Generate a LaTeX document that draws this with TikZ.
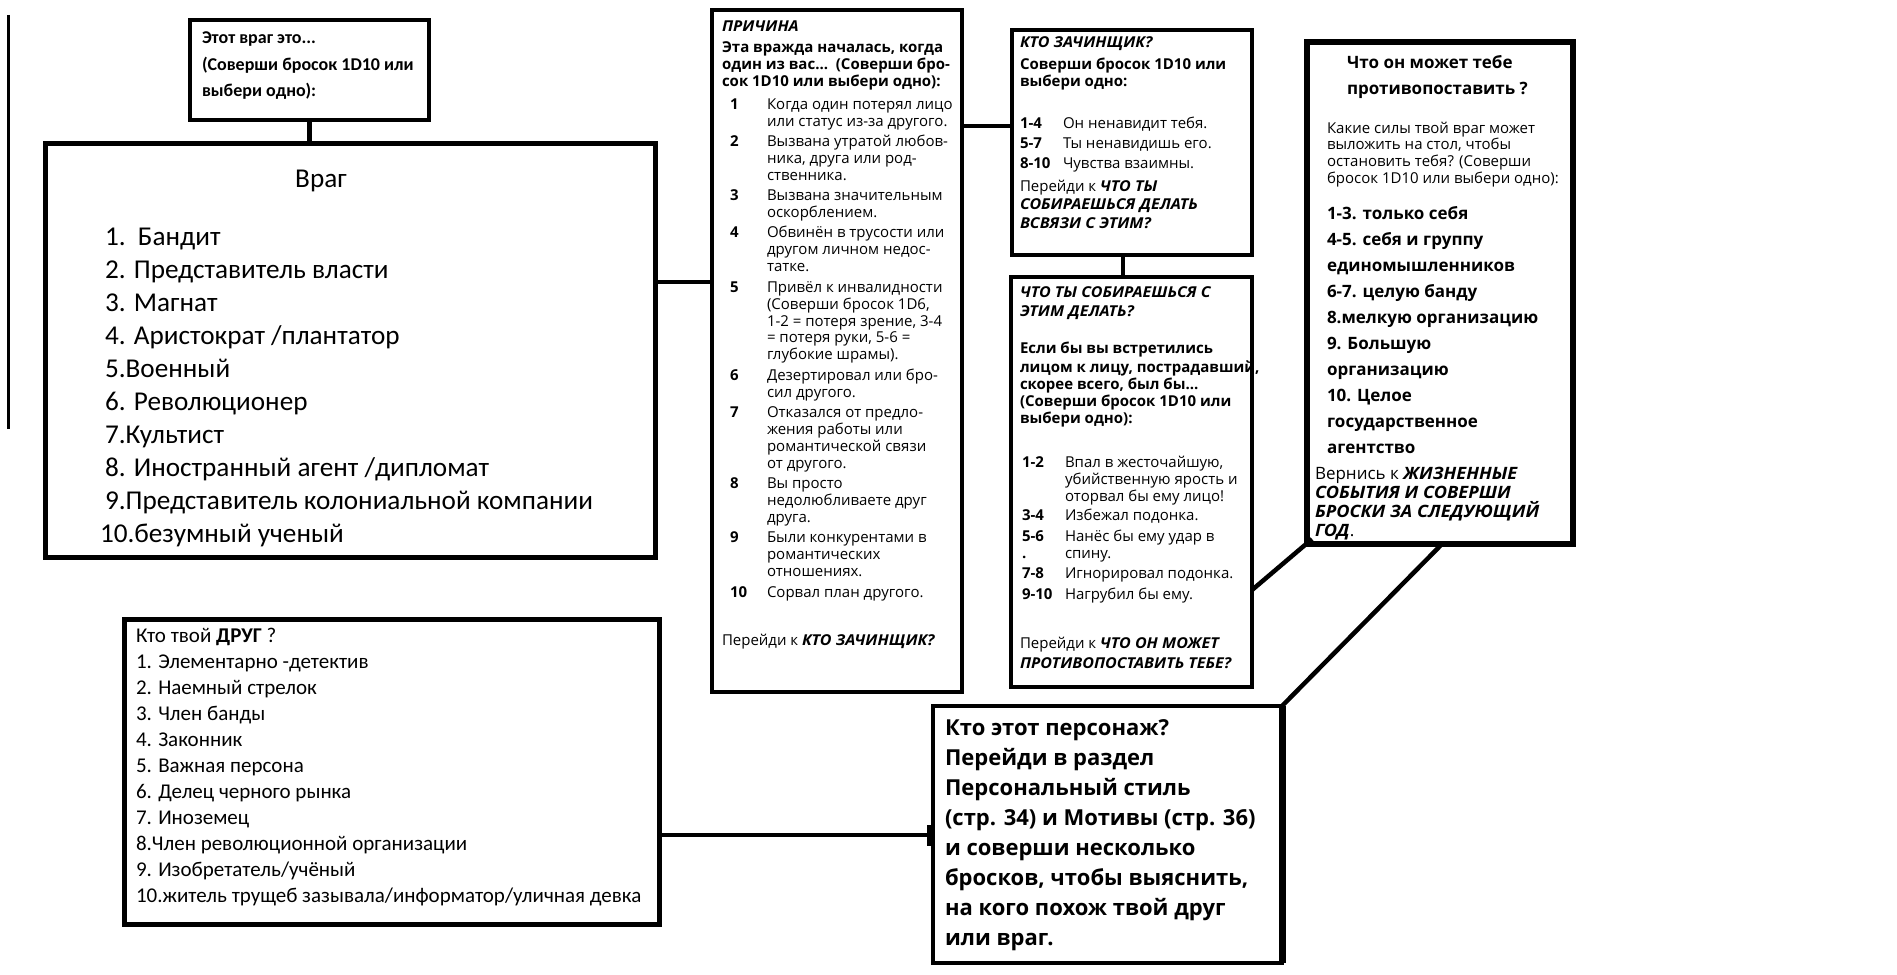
\documentclass[tikz,border=0pt]{standalone}
\usepackage{fontspec}
\setmainfont{Open Sans}
\newfontfamily\carl{Carlito}
\newcommand\setfs[2]{\fontsize{#1}{#2}\selectfont}
\newcommand\bi[1]{\scalebox{1.07}[1]{\bfseries\itshape #1}}
\newcommand\bb[1]{{\bfseries #1}}
\newcommand\mlines[1]{\vtop{\lineskiplimit=-1000pt\relax\lineskip=0pt\relax\halign{##\hfil\cr#1\crcr}}}
\newcommand\gap[1]{\noalign{\vskip#1}}
\newcommand\nA[1]{\hspace*{8pt}\makebox[37pt][l]{\bfseries #1}}
\newcommand\hA{\hspace*{45pt}}
\newcommand\nB[1]{\makebox[43pt][l]{\bfseries #1}}
\newcommand\nC[1]{\hspace*{2pt}\makebox[43pt][l]{\bfseries #1}}
\newcommand\hC{\hspace*{45pt}}
\tikzset{
  box/.style={draw, line width=#1, rectangle, inner sep=0pt, outer sep=0pt, anchor=north west},
  box/.default=5pt,
  txt/.style={inner sep=0pt, outer sep=0pt, anchor=base west},
  conn/.style={line width=4.5pt},
}
\begin{document}
\begin{tikzpicture}[x=1pt,y=-1pt]
\fill[white] (0,0) rectangle (1897,974);
\useasboundingbox (0,0) rectangle (1897,974);

% boxes
\node[box=4.5pt, minimum width=239pt, minimum height=100pt] (small) at (190,20) {};
\node[box=5pt, minimum width=610pt, minimum height=414pt] (vrag) at (45,143) {};
\node[box=3.5pt, minimum width=250pt, minimum height=682pt] (prich) at (712,10) {};
\node[box=3.5pt, minimum width=240pt, minimum height=225pt] (zach) at (1012,30) {};
\node[box=3.5pt, minimum width=241pt, minimum height=410pt] (chto) at (1011,277) {};
\node[box=5.5pt, minimum width=266pt, minimum height=502pt] (chton) at (1307,42) {};
\node[box=5pt, minimum width=535pt, minimum height=305pt] (drug) at (124,619) {};
\node[box=4pt, minimum width=349pt, minimum height=257pt] (kto) at (933,706) {};

% coordinates for connectors
\coordinate (l1) at (8,15);
\coordinate (l2) at (8,429);
\coordinate (c1) at (0,282);
\coordinate (c2) at (0,126);
\coordinate (c3) at (1123,0);
\coordinate (c4) at (0,590);
\coordinate (c5) at (1442,0);
\coordinate (c6) at (0,835);
\coordinate (c7) at (0,825);
\coordinate (c8) at (0,846);

% connectors
\draw[line width=3pt] (l1) -- (l2);
\draw[conn] (small.south) -- (small.south |- vrag.north);
\draw[conn] (vrag.east |- c1) -- (prich.west |- c1);
\draw[conn] (prich.east |- c2) -- (zach.west |- c2);
\draw[conn] (zach.south -| c3) -- (chto.north -| c3);
\draw[conn] (chto.east |- c4) -- ([xshift=5pt,yshift=5pt]chton.south west);
\draw[conn] (chton.south -| c5) -- (kto.north east);
\draw[conn] (drug.east |- c6) -- (kto.west |- c6);
\draw[line width=8pt] ([xshift=-2pt]kto.west |- c7) -- ([xshift=-2pt]kto.west |- c8);
\draw[line width=7pt] (kto.north east) -- (kto.south east);

% texts
\node[txt] (smallt) at (202,44) {\carl\bfseries\setfs{18}{26.5}\mlines{Этот враг это...\cr
(Соверши бросок 1D10 или\cr
выбери одно):}};

\node[inner sep=0pt, anchor=base] (vragt) at (321,187) {\carl\setfs{27.2}{32}Враг};
\node[txt] (vragl) at (105,245) {\carl\setfs{27.2}{33.1}\mlines{1.\ \ Бандит\cr
2. Представитель власти\cr
3. Магнат\cr
4. Аристократ /плантатор\cr
5.Военный\cr
6. Революционер\cr
7.Культист\cr
8. Иностранный агент /дипломат\cr
9.Представитель колониальной компании\cr
\hspace*{-5pt}10.безумный ученый}};

\node[txt] (pricht) at (722,32) {\setfs{15}{16.9}\mlines{\bi{ПРИЧИНА}\cr\gap{4pt}
\bb{Эта вражда началась, когда}\cr
\bb{один из вас...\ \ (Соверши бро-}\cr
\bb{сок 1D10 или выбери одно):}\cr\gap{5.6pt}
\nA{1}Когда один потерял лицо\cr
\hA или статус из-за другого.\cr\gap{3.5pt}
\nA{2}Вызвана утратой любов-\cr
\hA ника, друга или род-\cr
\hA ственника.\cr\gap{3.5pt}
\nA{3}Вызвана значительным\cr
\hA оскорблением.\cr\gap{3.5pt}
\nA{4}Обвинён в трусости или\cr
\hA другом личном недос-\cr
\hA татке.\cr\gap{3.5pt}
\nA{5}Привёл к инвалидности\cr
\hA (Соверши бросок 1D6,\cr
\hA 1-2 = потеря зрение, 3-4\cr
\hA = потеря руки, 5-6 =\cr
\hA глубокие шрамы).\cr\gap{3.5pt}
\nA{6}Дезертировал или бро-\cr
\hA сил другого.\cr\gap{3.5pt}
\nA{7}Отказался от предло-\cr
\hA жения работы или\cr
\hA романтической связи\cr
\hA от другого.\cr\gap{3.5pt}
\nA{8}Вы просто\cr
\hA недолюбливаете друг\cr
\hA друга.\cr\gap{3.5pt}
\nA{9}Были конкурентами в\cr
\hA романтических\cr
\hA отношениях.\cr\gap{3.5pt}
\nA{10}Сорвал план другого.\cr\gap{32pt}
Перейди к \bi{КТО ЗАЧИНЩИК?}}};

\node[txt] (zacht) at (1020,48) {\setfs{15}{17}\mlines{\bi{КТО ЗАЧИНЩИК?}\cr\gap{5pt}
\bb{Соверши бросок 1D10 или}\cr
\bb{выбери одно:}\cr\gap{25pt}
\nB{1-4}Он ненавидит тебя.\cr\gap{3pt}
\nB{5-7}Ты ненавидишь его.\cr\gap{3pt}
\nB{8-10}Чувства взаимны.\cr\gap{6pt}
Перейди к \bi{ЧТО ТЫ}\cr\gap{1pt}
\bi{СОБИРАЕШЬСЯ ДЕЛАТЬ}\cr\gap{1pt}
\bi{ВСВЯЗИ С ЭТИМ?}}};

\node[txt] (chtot) at (1020,297) {\setfs{15}{17}\mlines{\bi{ЧТО ТЫ СОБИРАЕШЬСЯ С}\cr\gap{2pt}
\bi{ЭТИМ ДЕЛАТЬ?}\cr\gap{20pt}
\bb{Если бы вы встретились}\cr\gap{2pt}
\bb{лицом к лицу, пострадавший,}\cr
\bb{скорее всего, был бы...}\cr
\bb{(Соверши бросок 1D10 или}\cr
\bb{выбери одно):}\cr\gap{27pt}
\nC{1-2}Впал в жесточайшую,\cr
\hC убийственную ярость и\cr
\hC оторвал бы ему лицо!\cr\gap{2pt}
\nC{3-4}Избежал подонка.\cr\gap{4pt}
\nC{5-6}Нанёс бы ему удар в\cr
\nC{.}спину.\cr\gap{3pt}
\nC{7-8}Игнорировал подонка.\cr\gap{4pt}
\nC{9-10}Нагрубил бы ему.\cr\gap{32pt}
Перейди к \bi{ЧТО ОН МОЖЕТ}\cr\gap{3pt}
\bi{ПРОТИВОПОСТАВИТЬ ТЕБЕ?}}};

\node[txt] (chtont1) at (1347,69) {\bfseries\setfs{17}{25}\mlines{Что он может тебе\cr
противопоставить ?}};
\node[txt] (chtont2) at (1327,133) {\setfs{15}{16.7}\mlines{Какие силы твой враг может\cr
выложить на стол, чтобы\cr
остановить тебя? (Соверши\cr
бросок 1D10 или выбери одно):}};
\node[txt] (chtont3) at (1327,219) {\bfseries\setfs{17}{26}\mlines{1-3. только себя\cr
4-5. себя и группу\cr
единомышленников\cr
6-7. целую банду\cr
8.мелкую организацию\cr
9. Большую\cr
организацию\cr
10. Целое\cr
государственное\cr
агентство}};
\node[txt] (chtont4) at (1315,479) {\setfs{17}{19}\mlines{Вернись к \bi{ЖИЗНЕННЫЕ}\cr
\bi{СОБЫТИЯ И СОВЕРШИ}\cr
\bi{БРОСКИ ЗА СЛЕДУЮЩИЙ}\cr
\bi{ГОД}.}};

\node[txt] (drugt) at (136,642) {\carl\setfs{21}{26}\mlines{Кто твой \textbf{ДРУГ} ?\cr
1. Элементарно -детектив\cr
2. Наемный стрелок\cr
3. Член банды\cr
4. Законник\cr
5. Важная персона\cr
6. Делец черного рынка\cr
7. Иноземец\cr
8.Член революционной организации\cr
9. Изобретатель/учёный\cr
10.житель трущеб зазывала/информатор/уличная девка}};

\node[txt] (ktot) at (945,735) {\bfseries\setfs{22}{30}\mlines{Кто этот персонаж?\cr
Перейди в раздел\cr
Персональный стиль\cr
(стр. 34) и Мотивы (стр. 36)\cr
и соверши несколько\cr
бросков, чтобы выяснить,\cr
на кого похож твой друг\cr
или враг.}};
\end{tikzpicture}
\end{document}
